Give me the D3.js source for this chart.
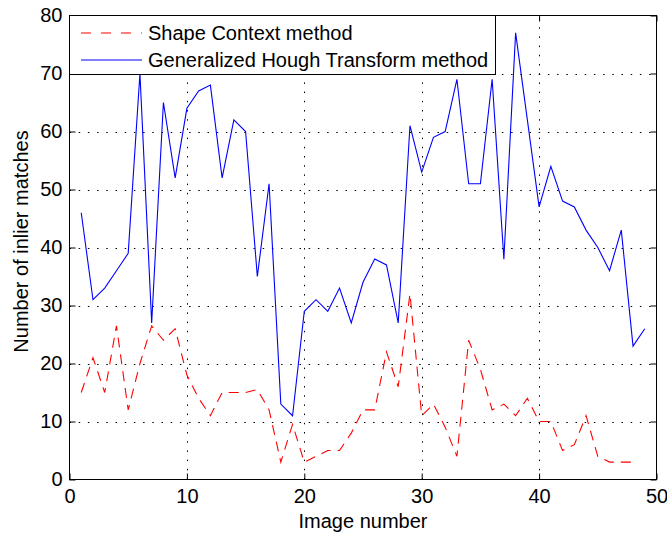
<!DOCTYPE html>
<html><head><meta charset="utf-8">
<script src="https://cdn.jsdelivr.net/npm/d3@7"></script>
<style>
body{margin:0;background:#fff;}
text{font-family:"Liberation Sans",Arial,sans-serif;fill:#000;}
</style></head>
<body><svg id="c" width="667" height="536"></svg>
<script>
const xTicks = [0,10,20,30,40,50];
const yTicks = [0,10,20,30,40,50,60,70,80];
const imagesShape = d3.range(1,49);
const shapeContext = [15,21,15,26.5,12,20,26.5,24,26,18,14,11,15,15,15,15.5,12,3,9.5,3,4,5,5,8,12,12,22,16,32,11,13,9,4,24,19,12,13,11,14,10,10,5,6,11,4,3,3,3];
const imagesHough = d3.range(1,50);
const hough = [46,31,33,36,39,70,27,65,52,64,67,68,52,62,60,35,51,13,11,29,31,29,33,27,34,38,37,27,61,53,59,60,69,51,51,69,38,77,62,47,54,48,47,43,40,36,43,23,26];
const seriesNames = ["Shape Context method","Generalized Hough Transform method"];
const xLabel = "Image number";
const yLabel = "Number of inlier matches";

const svg = d3.select("#c");
const L=69.5, R=656.5, T=15.5, B=479.5;
const x = d3.scaleLinear().domain([0,50]).range([L,R]);
const y = d3.scaleLinear().domain([0,80]).range([B,T]);
const fs = 20;

// grid
const g = svg.append("g");
g.selectAll(".gx").data(xTicks.slice(1,-1)).enter().append("line")
  .attr("x1",d=>Math.round(x(d))+0.5).attr("x2",d=>Math.round(x(d))+0.5).attr("y1",B).attr("y2",T)
  .attr("stroke","#000").attr("stroke-width",1).attr("stroke-dasharray","1.5,7.7");
g.selectAll(".gy").data(yTicks.slice(1,-1)).enter().append("line")
  .attr("y1",d=>Math.round(y(d))+0.5).attr("y2",d=>Math.round(y(d))+0.5).attr("x1",L).attr("x2",R)
  .attr("stroke","#000").attr("stroke-width",1).attr("stroke-dasharray","1.5,7.7");

// lines
const lineS = d3.line().x((d,i)=>x(imagesShape[i])).y(d=>y(d));
const lineH = d3.line().x((d,i)=>x(imagesHough[i])).y(d=>y(d));
svg.append("path").attr("d",lineS(shapeContext)).attr("fill","none").attr("stroke","#ff0000").attr("stroke-width",1.1).attr("stroke-dasharray","10,7");
svg.append("path").attr("d",lineH(hough)).attr("fill","none").attr("stroke","#0000ff").attr("stroke-width",1.1);

// axes
const tl = 6;
const ax = svg.append("g").attr("transform",`translate(0,${B})`)
  .call(d3.axisBottom(x).tickValues(xTicks).tickSize(-tl).tickPadding(9).tickFormat(d3.format("d")));
const ay = svg.append("g").attr("transform",`translate(${L},0)`)
  .call(d3.axisLeft(y).tickValues(yTicks).tickSize(-tl).tickPadding(7).tickFormat(d3.format("d")));
const axT = svg.append("g").attr("transform",`translate(0,${T})`)
  .call(d3.axisTop(x).tickValues(xTicks).tickSize(-tl).tickFormat(""));
const ayR = svg.append("g").attr("transform",`translate(${R},0)`)
  .call(d3.axisRight(y).tickValues(yTicks).tickSize(-tl).tickFormat(""));
[ax,ay,axT,ayR].forEach(a=>{
  a.select(".domain").attr("stroke","#000").attr("stroke-width",1);
  a.selectAll(".tick line").attr("stroke","#000");
  a.selectAll("text").style("font-size",fs+"px").style("font-family","Liberation Sans, Arial, sans-serif").attr("fill","#000");
});
svg.selectAll(".domain").attr("d",null);
svg.append("rect").attr("x",L).attr("y",T).attr("width",R-L).attr("height",B-T).attr("fill","none").attr("stroke","#000").attr("stroke-width",1);

// labels
svg.append("text").attr("x",(L+R)/2).attr("y",528).attr("text-anchor","middle").style("font-size",fs+"px").text(xLabel);
svg.append("text").attr("transform",`translate(28,${(T+B)/2-6}) rotate(-90)`).attr("text-anchor","middle").style("font-size",fs+"px").text(yLabel);

// legend
const lg = svg.append("g");
lg.append("rect").attr("x",69.5).attr("y",15.5).attr("width",426).attr("height",59).attr("fill","#fff").attr("stroke","#000").attr("stroke-width",1);
const rows=[{c:"#ff0000",dash:"10,10",yy:33},{c:"#0000ff",dash:null,yy:60}];
rows.forEach((r,i)=>{
  lg.append("line").attr("x1",81).attr("x2",142).attr("y1",r.yy).attr("y2",r.yy).attr("stroke",r.c).attr("stroke-width",1.1).attr("stroke-dasharray",r.dash);
  lg.append("text").attr("x",148).attr("y",r.yy).attr("dy","0.35em").style("font-size",fs+"px").text(seriesNames[i]);
});
</script></body></html>
